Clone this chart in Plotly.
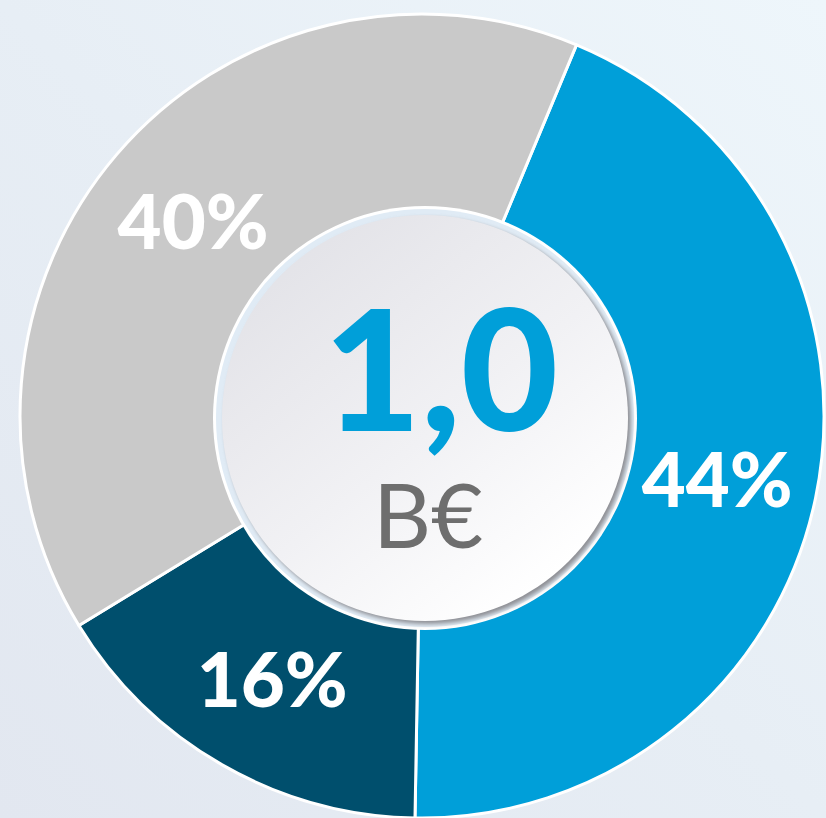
import base64
import plotly.graph_objects as go

# Share of the 1,0 B€ total, listed clockwise from the upper-right slice
segments = ["Bleu", "Bleu foncé", "Gris"]
shares = [44, 16, 40]
colors = ["#009fd9", "#004f6d", "#c9c9c9"]

total_value = "1,0"
total_unit = "B€"

W, H = 826, 818
CX, CY, R = 422, 416, 402          # pie centre and outer radius in pixels
DISC_CX, DISC_CY = 425, 418        # centre disc


def svg_uri(svg):
    return "data:image/svg+xml;base64," + base64.b64encode(svg.encode("utf-8")).decode("ascii")


background_svg = f"""<svg xmlns='http://www.w3.org/2000/svg' width='{W}' height='{H}' viewBox='0 0 {W} {H}'>
<defs><linearGradient id='bg' x1='1' y1='0' x2='0' y2='1'>
<stop offset='0' stop-color='#eef6fb'/><stop offset='0.5' stop-color='#e7eef5'/><stop offset='1' stop-color='#e2e7f0'/>
</linearGradient></defs>
<rect width='{W}' height='{H}' fill='url(#bg)'/></svg>"""

S = 460
c = S / 2
disc_svg = f"""<svg xmlns='http://www.w3.org/2000/svg' width='{S}' height='{S}' viewBox='0 0 {S} {S}'>
<defs>
<linearGradient id='face' x1='0.15' y1='0.1' x2='0.8' y2='0.9'>
<stop offset='0' stop-color='#e3e3e8'/><stop offset='0.55' stop-color='#f1f1f4'/><stop offset='1' stop-color='#ffffff'/>
</linearGradient>
<filter id='blur' x='-10%' y='-10%' width='120%' height='120%'><feGaussianBlur stdDeviation='2'/></filter>
</defs>
<circle cx='{c}' cy='{c}' r='212' fill='#ffffff'/>
<circle cx='{c}' cy='{c}' r='209' fill='#e0ebf5'/>
<circle cx='{c + 3}' cy='{c + 3}' r='203' fill='#8e8f94' filter='url(#blur)'/>
<circle cx='{c}' cy='{c}' r='203' fill='url(#face)'/>
</svg>"""

fig = go.Figure()
fig.add_trace(go.Pie(
    labels=segments,
    values=shares,
    sort=False,
    direction="clockwise",
    rotation=22.6,
    hole=0.5,
    marker=dict(colors=colors, line=dict(color="#ffffff", width=3)),
    textinfo="percent",
    textposition="inside",
    insidetextorientation="horizontal",
    textfont=dict(family="Lato", size=76, color="#ffffff", weight=900),
    showlegend=False,
    hoverinfo="label+percent",
    domain=dict(x=[(CX - R) / W, (CX + R) / W], y=[(H - (CY + R)) / H, (H - (CY - R)) / H]),
))

fig.add_layout_image(dict(
    source=svg_uri(background_svg), xref="paper", yref="paper",
    x=0, y=1, sizex=1, sizey=1, xanchor="left", yanchor="top",
    sizing="stretch", layer="below",
))
fig.add_layout_image(dict(
    source=svg_uri(disc_svg), xref="paper", yref="paper",
    x=DISC_CX / W, y=1 - DISC_CY / H, sizex=S / W, sizey=S / H,
    xanchor="center", yanchor="middle", sizing="stretch", layer="above",
))

# Total in the centre: large blue figure above the grey unit
centre_text = (
    "<span style='font-size:100px'>&nbsp;</span>"
    f"<span style='font-size:168px;font-weight:900;color:#009fd9'>{total_value}</span>"
    f"<br><span style='color:#6e6e6e'>{total_unit}</span>"
)
fig.add_annotation(
    x=428 / W, y=1 - 416 / H, xref="paper", yref="paper",
    text=centre_text, showarrow=False, align="center",
    font=dict(family="Lato", size=90, color="#6e6e6e"),
    xanchor="center", yanchor="middle",
)

fig.update_layout(
    width=W, height=H, autosize=False,
    margin=dict(l=0, r=0, t=0, b=0),
    paper_bgcolor="#e8eff5", plot_bgcolor="rgba(0,0,0,0)",
)

fig.write_html("out.html")
